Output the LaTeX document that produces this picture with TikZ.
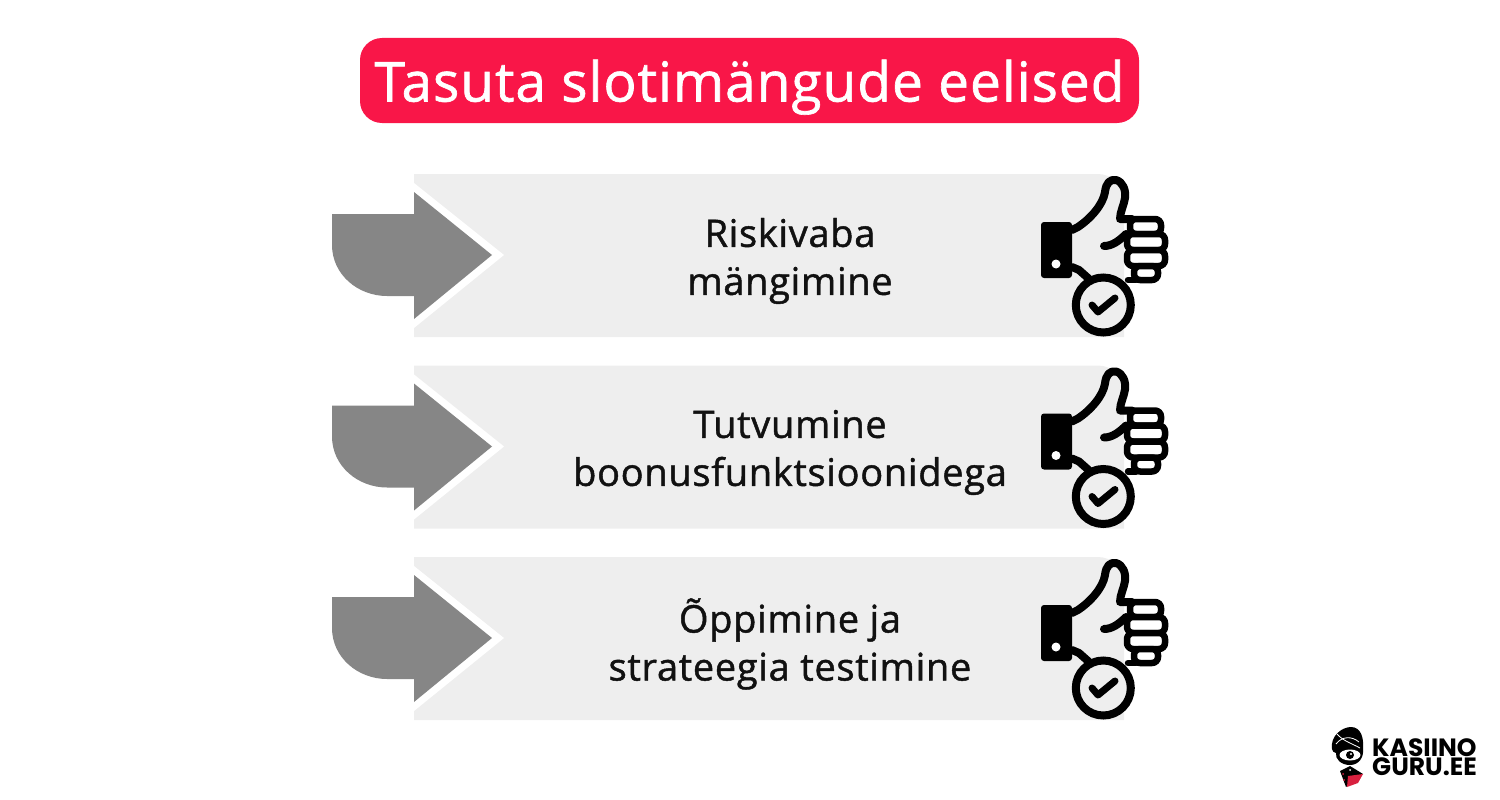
\documentclass[tikz,border=0pt]{standalone}
\usepackage{fontspec}
\setmainfont{Open Sans}[FakeBold=1.2,LetterSpace=1.8]
\newfontfamily\logofont{Poppins}
\definecolor{titlered}{HTML}{F91648}
\definecolor{bandgrey}{HTML}{EEEEEE}
\definecolor{arrowgrey}{HTML}{868686}
\definecolor{inkblack}{HTML}{111111}
\definecolor{dicered}{HTML}{D8203F}
\tikzset{
    titlebox/.style={fill=titlered,rounded corners=22pt,minimum width=779pt,minimum height=85pt,inner sep=0pt,text=white,font=\fontsize{55}{60}\selectfont},
    bandtext/.style={align=center,text=inkblack,font=\fontsize{38}{48}\selectfont},
    logotext/.style={anchor=west,align=left,inner sep=0pt,text=black,font=\logofont\bfseries\fontsize{25}{19.5}\selectfont},
    thumbline/.style={draw=black,line width=8pt,line cap=round,line join=round},
    fingerline/.style={draw=black,fill=white,line width=6.5pt,line join=round,rounded corners=6pt}
}
\begin{document}
\begin{tikzpicture}[x=1pt,y=-1pt]
    \useasboundingbox (0,0) rectangle (1500,800);
    \node [titlebox] (title) at (749.5,80.5) {\raisebox{-21pt}[0pt][0pt]{Tasuta slotimängude eelised}};
    \foreach \i/\shifty/\lineone/\linetwo in {
        1/0/Riskivaba/mängimine,
        2/191.5/Tutvumine/boonusfunktsioonidega,
        3/383/Õppimine ja/strateegia testimine
    } {
        \begin{scope}[yshift=-\shifty pt]
            \fill [bandgrey] (414,174) -- (1098,174)
                to [out=0,in=90] (1124,200)
                -- (1124,337) -- (414,337) -- cycle;
            \fill [white] (414,183) -- (504,255) -- (414,328) -- cycle;
            \fill [arrowgrey] (332,214) -- (414,214) -- (414,192)
                -- (492,255) -- (414,319) -- (414,296) -- (387,296)
                to [out=180,in=-90] (332,245) -- cycle;
            \node [bandtext] (band\i) at (790,261) {\lineone\\\linetwo};
            % thumb
            \begin{scope}[shift={(1020,165)}]
                \foreach \fy/\fh/\fa/\fb in {54/15/110/141,69/16/107/145,85/16/107/145,101/14/114/138} {
                    \draw [fingerline] (\fa,\fy) rectangle (\fb,\fy+\fh);
                }
                \fill [black,rounded corners=3pt] (21,57) rectangle (52,113);
                \fill [white] (36,99) circle (4.5);
                \draw [thumbline] (52,65) -- (58,62)
                    .. controls (70,54) and (83,40) .. (85,27)
                    .. controls (86,18) and (90,14) .. (96,15)
                    .. controls (103,17) and (106,25) .. (105,33)
                    .. controls (104,40) and (100,47) .. (100,54) -- (112,54);
                \draw [thumbline] (84,81) .. controls (92,81) and (99,76) .. (106,69);
                \draw [thumbline] (52,102) -- (59,105) -- (68,113);
                \draw [thumbline,line width=6.5pt] (108,115) -- (116,115);
                \fill [bandgrey] (83.3,140) circle (25);
                \draw [black,line width=8pt] (83.3,140) circle (27.5);
                \draw [black,line width=7pt,line cap=round,line join=round]
                    (72,140) -- (78,147) -- (95,133);
            \end{scope}
        \end{scope}
    }
    % logo
    \begin{scope}[shift={(1328,724)}]
        \fill [black] (4,25) .. controls (2,12) and (14,3) .. (23,3)
            .. controls (33,3) and (36,14) .. (35,25)
            .. controls (36,33) and (31,41) .. (22,41)
            .. controls (13,41) and (7,35) .. (8,29)
            .. controls (6,29) and (4,27) .. (4,25) -- cycle;
        \fill [white] (22,31) ellipse (10.5 and 5.5);
        \fill [black] (22,31) circle (4);
        \fill [white] (23,30) circle (1.2);
        \draw [white,line width=0.8pt] (8,20) .. controls (14,12) and (24,12) .. (31,18);
        \draw [white,line width=0.8pt] (9,10) .. controls (15,17) and (25,20) .. (32,24);
        \fill [black] (22,42) -- (12,47) -- (18,63) -- (26,55) -- (35,50) -- cycle;
        \fill [dicered] (20,52) -- (35,50) -- (30,59) -- (19,63) -- cycle;
        \fill [dicered] (15,50) circle (1) (16,56) circle (1);
        \fill [white] (22,46) circle (1);
    \end{scope}
    \node [logotext] (logo) at (1372,757) {KASIINO\\GURU.EE};
\end{tikzpicture}
\end{document}
